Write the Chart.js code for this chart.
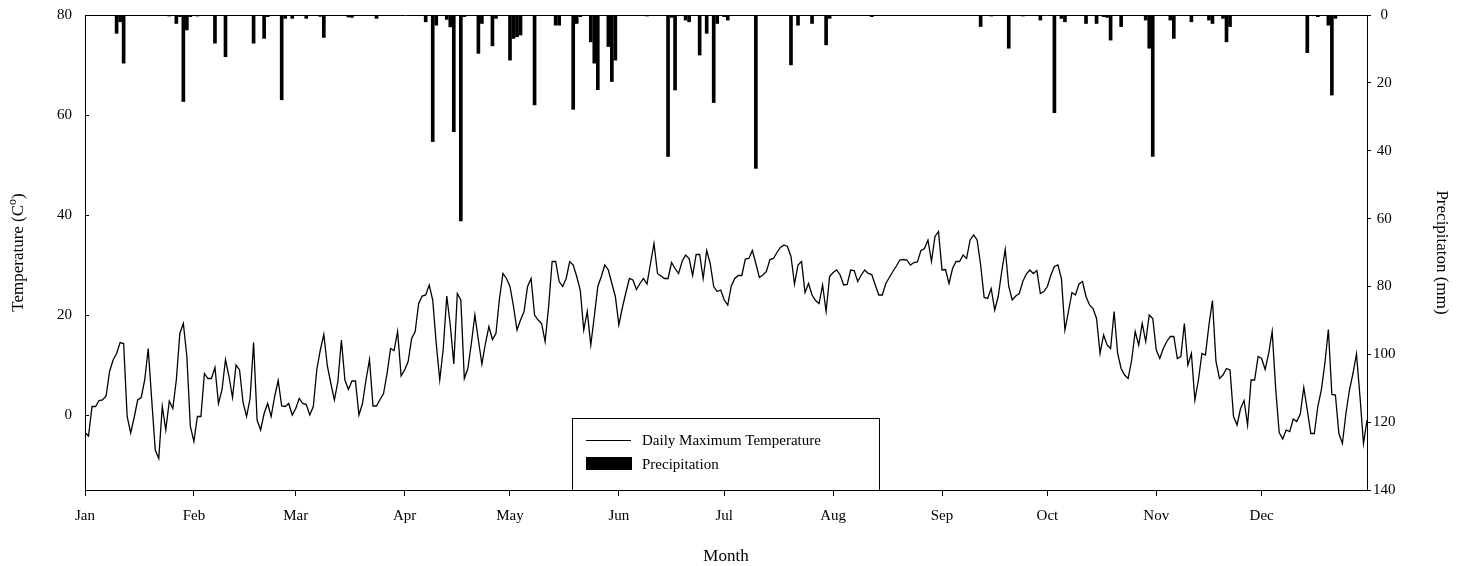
<!DOCTYPE html>
<html>
<head>
<meta charset="utf-8">
<script src="https://cdn.jsdelivr.net/npm/chart.js@4.4.1/dist/chart.umd.min.js"></script>
<style>
  html, body { margin: 0; padding: 0; background: #ffffff; }
  #wrap { width: 1458px; height: 566px; position: relative; }
</style>
</head>
<body>
<div id="wrap"><canvas id="c" width="1458" height="566"></canvas></div>
<script>
// Month axis: labels placed at the first day of each month (leap year, day 0 = 1 Jan)
const monthLabels = ['Jan', 'Feb', 'Mar', 'Apr', 'May', 'Jun', 'Jul', 'Aug', 'Sep', 'Oct', 'Nov', 'Dec'];
const monthStartDays = [0, 31, 60, 91, 121, 152, 182, 213, 244, 274, 305, 335];

// Daily maximum temperature (°C), one value per day
const maxTemp = [
  -3.5, -4.2, 1.7, 1.7, 2.9, 3.0, 3.8, 8.7, 11.0, 12.3, 14.5, 14.3, -0.3, -3.6, -0.5, 3.0,
  3.5, 7.0, 13.3, 3.0, -7.0, -8.7, 1.7, -3.0, 2.8, 1.3, 7.0, 16.3, 18.3, 11.7, -2.3,
  -5.3, -0.3, -0.3, 8.3, 7.3, 7.3, 9.5, 2.3, 5.0, 11.1, 7.7, 3.5, 10.0, 9.0, 2.5, -0.3,
  3.3, 14.5, -1.0, -3.0, 0.3, 2.3, -0.3, 3.7, 6.9, 1.8, 1.7, 2.3, 0.0,
  1.3, 3.3, 2.3, 2.1, 0.0, 1.7, 9.1, 13.0, 16.1, 9.8, 6.3, 3.0, 6.7, 15.0, 7.0, 5.1,
  6.8, 6.8, 0.0, 2.3, 7.0, 11.1, 1.8, 1.8, 3.1, 4.3, 8.3, 13.3, 12.9, 16.7, 7.8,
  9.0, 10.7, 15.3, 16.7, 22.3, 23.8, 24.0, 26.0, 23.0, 14.3, 7.0, 13.3, 23.8, 18.0, 10.2,
  24.3, 23.0, 7.3, 9.3, 14.3, 20.0, 15.0, 10.2, 14.3, 17.7, 15.1, 16.3, 23.3, 28.3, 27.3,
  25.7, 21.7, 17.0, 19.0, 20.7, 25.7, 27.3, 20.0, 19.0, 18.3, 14.7, 21.7, 30.7, 30.7, 26.7,
  25.7, 27.3, 30.7, 30.0, 27.7, 25.0, 17.0, 20.7, 14.0, 19.7, 25.7, 27.7, 30.0, 29.0, 26.3, 23.7,
  18.0, 21.5, 24.5, 27.3, 27.0, 25.1, 26.3, 27.3, 26.2, 30.3, 34.3, 28.3, 27.8, 27.3, 27.3,
  30.5, 29.3, 28.3, 30.7, 32.0, 31.3, 27.9, 32.1, 32.1, 27.3, 32.9, 30.3, 25.7, 24.7, 25.0,
  23.0, 22.0, 25.8, 27.3, 27.9, 27.9, 31.2, 31.3, 32.9, 30.3, 27.5, 28.0, 28.7, 31.1, 31.3,
  32.5, 33.5, 34.0, 33.7, 31.7, 26.2, 30.0, 30.7, 24.5, 26.3, 24.0, 22.9, 22.3, 26.0, 20.7, 27.7,
  28.5, 29.0, 28.0, 26.0, 26.1, 29.0, 28.9, 26.7, 28.0, 29.0, 28.3, 28.1, 26.0, 24.0, 24.0,
  26.3, 27.5, 28.7, 29.8, 31.0, 31.1, 31.0, 30.0, 30.5, 30.6, 32.9, 33.3, 35.0, 30.7, 35.7, 36.7,
  29.0, 29.1, 26.3, 29.3, 30.7, 30.7, 32.0, 31.3, 35.0, 36.0, 35.0, 30.0, 23.5, 23.3, 25.3,
  21.0, 23.7, 28.7, 33.1, 25.7, 23.0, 23.8, 24.3, 26.7, 28.2, 29.0, 28.3, 28.9, 24.3, 24.7,
  25.7, 28.0, 29.7, 30.0, 27.3, 17.0, 20.7, 24.5, 24.0, 26.2, 26.7, 23.7, 22.0, 21.3, 19.3,
  12.3, 16.0, 14.0, 13.3, 20.7, 12.3, 9.3, 8.0, 7.3, 11.0, 16.7, 14.0, 18.3, 14.7, 20.0, 19.3,
  13.0, 11.3, 13.3, 14.7, 15.7, 15.7, 11.3, 11.7, 18.3, 10.0, 12.3, 3.0, 7.0, 12.3, 12.0,
  18.0, 22.9, 10.7, 7.3, 8.0, 9.3, 9.0, -0.3, -2.0, 1.3, 2.9, -2.0, 7.0, 7.0, 11.7,
  11.3, 9.1, 12.3, 16.7, 5.3, -3.5, -4.8, -3.0, -3.3, -0.8, -1.3, 0.2, 5.5, 1.0, -3.7, -3.7,
  1.7, 5.0, 10.3, 17.1, 4.1, 4.0, -3.7, -5.7, 0.3, 5.0, 8.3, 12.2, 3.7, -5.7, -1.0
];

// Days with precipitation and the amount that fell (mm)
const rainDays = [
  9, 10, 11, 24, 26, 27, 28, 29, 30, 32, 37, 40, 48, 51, 52, 56, 57, 59,
  63, 67, 68, 75, 76, 83, 97, 99, 100, 103, 104, 105, 107, 108, 112, 113, 116, 117, 121,
  122, 123, 124, 128, 134, 135, 139, 140, 141, 144, 145, 146, 149, 150, 151,
  160, 166, 167, 168, 171, 172, 175, 177, 179, 180, 182, 183, 191, 201, 203, 207, 211, 212,
  224, 255, 258, 263, 267, 272, 276, 278, 279, 285, 288, 290, 291, 292, 295, 302, 303, 304,
  309, 310, 315, 320, 321, 324, 325, 326, 348, 351, 354, 355, 356
];
const rainMm = [
  5.4, 2.0, 14.2, 0.3, 2.5, 0.5, 25.5, 4.4, 0.5, 0.3, 8.3, 12.3, 8.3, 6.9, 0.5, 25.0, 1.0, 1.0,
  1.0, 0.4, 6.6, 0.6, 0.7, 1.0, 2.0, 37.3, 3.0, 1.3, 3.5, 34.4, 60.7, 0.5, 11.3, 2.5, 9.1, 1.0, 13.3,
  6.9, 6.4, 5.9, 26.5, 3.0, 3.0, 27.8, 2.5, 0.5, 7.9, 14.2, 22.0, 9.3, 19.6, 13.3,
  0.3, 41.7, 0.7, 22.1, 1.5, 2.0, 11.8, 5.4, 25.8, 2.5, 0.5, 1.5, 45.2, 14.7, 3.0, 2.5, 8.8, 1.0,
  0.5, 3.4, 0.3, 9.8, 0.3, 1.5, 28.8, 1.0, 2.0, 2.5, 2.5, 0.5, 0.7, 7.4, 3.4, 1.5, 9.8, 41.7,
  1.5, 6.9, 2.0, 1.5, 2.5, 1.0, 7.9, 3.4, 11.1, 0.5, 3.0, 23.6, 1.0
];

// Temperature axis tick values
const tempTicks = [0, 20, 40, 60, 80];

const SERIF = '"Liberation Serif", "Times New Roman", serif';
const INK = '#000000';

// Frame, inward ticks on the temperature axis, axis titles and boxed legend
const decorations = {
  id: 'decorations',
  afterDraw(chart) {
    const { ctx, chartArea: a, scales } = chart;
    ctx.save();
    ctx.strokeStyle = INK;
    ctx.lineWidth = 1;

    // top edge of the plot frame
    ctx.beginPath();
    ctx.moveTo(a.left, Math.round(a.top) + 0.5);
    ctx.lineTo(a.right, Math.round(a.top) + 0.5);
    ctx.stroke();

    // inward tick marks on the left axis
    const yT = scales.yT;
    ctx.beginPath();
    tempTicks.forEach(v => {
      const y = Math.round(yT.getPixelForValue(v)) + 0.5;
      ctx.moveTo(a.left, y);
      ctx.lineTo(a.left + 4, y);
    });
    ctx.stroke();

    ctx.fillStyle = INK;
    ctx.font = '17px ' + SERIF;

    // bottom title
    ctx.textAlign = 'center';
    ctx.textBaseline = 'middle';
    ctx.fillText('Month', (a.left + a.right) / 2, 557);

    // right title
    ctx.save();
    ctx.translate(1441, (a.top + a.bottom) / 2);
    ctx.rotate(Math.PI / 2);
    ctx.fillText('Precipitaton (mm)', 0, 0);
    ctx.restore();

    // left title with raised small "o"
    ctx.save();
    ctx.translate(19, (a.top + a.bottom) / 2);
    ctx.rotate(-Math.PI / 2);
    const main = 'Temperature (C';
    const sup = 'o';
    const tail = ')';
    ctx.font = '17px ' + SERIF;
    const wMain = ctx.measureText(main).width;
    const wTail = ctx.measureText(tail).width;
    ctx.font = '12px ' + SERIF;
    const wSup = ctx.measureText(sup).width;
    const total = wMain + wSup + wTail;
    const x0 = -total / 2;
    ctx.textAlign = 'left';
    ctx.font = '17px ' + SERIF;
    ctx.fillText(main, x0, 0);
    ctx.font = '12px ' + SERIF;
    ctx.fillText(sup, x0 + wMain, -6);
    ctx.font = '17px ' + SERIF;
    ctx.fillText(tail, x0 + wMain + wSup, 0);
    ctx.restore();

    // legend box
    const ds = chart.data.datasets;
    const boxW = 308, boxH = 73;
    const bx = Math.round((a.left + a.right) / 2 - boxW / 2);
    const by = Math.round(a.bottom + 1 - boxH);
    ctx.fillStyle = '#ffffff';
    ctx.fillRect(bx, by, boxW, boxH);
    ctx.strokeStyle = INK;
    ctx.lineWidth = 1;
    ctx.strokeRect(bx + 0.5, by + 0.5, boxW - 1, boxH - 1);

    ctx.beginPath();
    ctx.lineWidth = 1;
    ctx.moveTo(bx + 14, by + 22.5);
    ctx.lineTo(bx + 59, by + 22.5);
    ctx.stroke();
    ctx.fillStyle = INK;
    ctx.fillRect(bx + 14, by + 39, 46, 13);

    ctx.font = '15px ' + SERIF;
    ctx.textAlign = 'left';
    ctx.textBaseline = 'middle';
    ctx.fillText(ds[0].label, bx + 70, by + 23);
    ctx.fillText(ds[1].label, bx + 70, by + 47);
    ctx.restore();
  }
};

const tempPoints = maxTemp.map((t, i) => ({ x: i, y: t }));
const rainPoints = rainDays.map((d, i) => ({ x: d, y: rainMm[i] }));

// vertical axes: fixed width and no extra label overhang above/below the plot
const fixVertical = width => s => {
  s.width = width;
  s.paddingTop = 0;
  s.paddingBottom = 0;
};

new Chart(document.getElementById('c'), {
  type: 'bar',
  data: {
    datasets: [
      {
        type: 'line',
        label: 'Daily Maximum Temperature',
        data: tempPoints,
        yAxisID: 'yT',
        borderColor: INK,
        borderWidth: 1.3,
        pointRadius: 0,
        tension: 0,
        fill: false,
        order: 1
      },
      {
        type: 'bar',
        label: 'Precipitation',
        data: rainPoints,
        yAxisID: 'yP',
        backgroundColor: INK,
        borderWidth: 0,
        barThickness: 3,
        grouped: false,
        order: 2
      }
    ]
  },
  options: {
    responsive: false,
    devicePixelRatio: 1,
    animation: false,
    layout: { padding: { top: 15, left: 0, right: 0, bottom: 0 } },
    plugins: {
      legend: { display: false },
      tooltip: { enabled: false }
    },
    scales: {
      x: {
        type: 'linear',
        position: 'bottom',
        offset: false,
        min: 0,
        max: 365,
        afterBuildTicks: s => { s.ticks = monthStartDays.map(v => ({ value: v })); },
        afterFit: s => { s.height = 76; s.paddingLeft = 0; s.paddingRight = 0; },
        ticks: {
          autoSkip: false,
          maxRotation: 0,
          color: INK,
          font: { family: SERIF, size: 15 },
          padding: 11,
          callback: v => monthLabels[monthStartDays.indexOf(v)]
        },
        grid: { offset: false, drawOnChartArea: false, drawTicks: true, tickLength: 6, color: INK },
        border: { display: true, color: INK, width: 1 }
      },
      yT: {
        type: 'linear',
        position: 'left',
        min: -15,
        max: 80,
        afterBuildTicks: s => { s.ticks = tempTicks.map(v => ({ value: v })); },
        afterFit: fixVertical(85),
        ticks: {
          color: INK,
          font: { family: SERIF, size: 15 },
          padding: 13
        },
        grid: { drawOnChartArea: false, drawTicks: false },
        border: { display: true, color: INK, width: 1 }
      },
      yP: {
        type: 'linear',
        position: 'right',
        reverse: true,
        min: 0,
        max: 140,
        afterFit: fixVertical(91),
        ticks: {
          stepSize: 20,
          color: INK,
          font: { family: SERIF, size: 15 },
          padding: 2,
          crossAlign: 'center'
        },
        grid: { drawOnChartArea: false, drawTicks: true, tickLength: 4, color: INK },
        border: { display: true, color: INK, width: 1 }
      }
    }
  },
  plugins: [decorations]
});
</script>
</body>
</html>
